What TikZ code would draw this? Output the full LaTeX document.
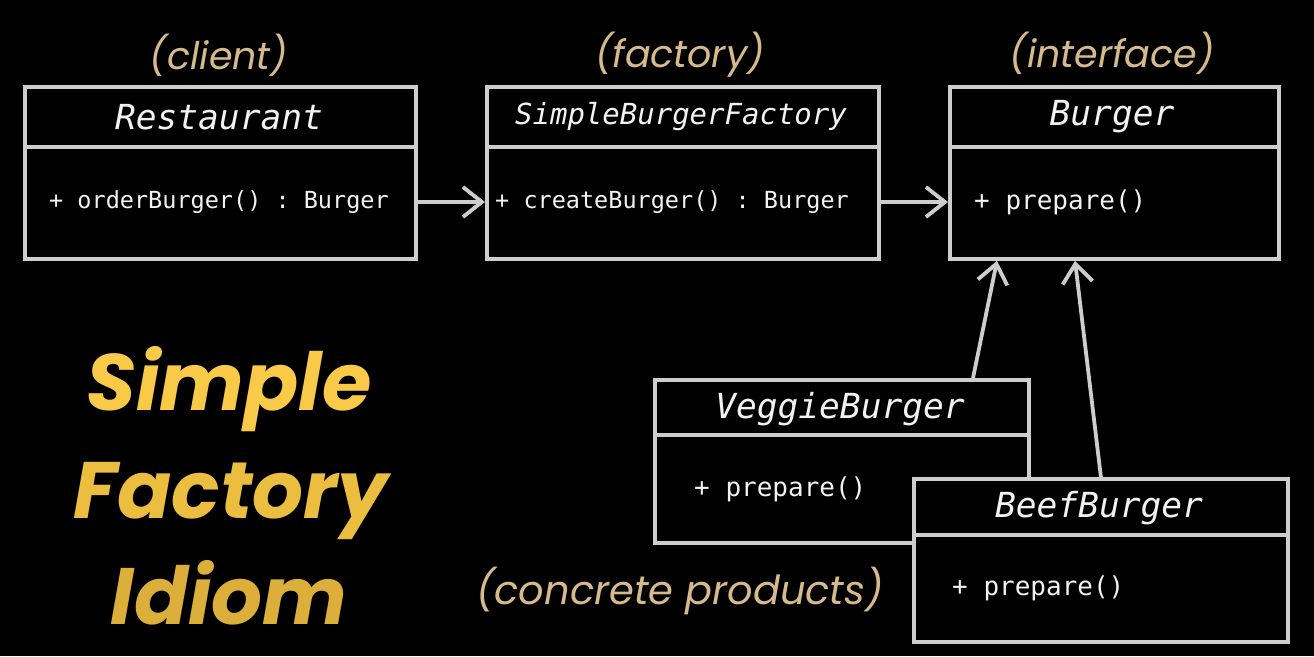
\documentclass[tikz,border=0pt]{standalone}
\usepackage{fontspec}
\setmonofont{DejaVu Sans Mono}
\newfontfamily\popfont{Poppins}
\usetikzlibrary{arrows.meta,calc}
\definecolor{boxgray}{RGB}{205,205,205}
\definecolor{txtwhite}{RGB}{242,242,242}
\definecolor{tan}{RGB}{214,186,140}
\definecolor{goldA}{RGB}{248,202,72}
\definecolor{goldB}{RGB}{236,190,64}
\definecolor{goldC}{RGB}{220,174,58}
\tikzset{
  umlbox/.style={draw=boxgray, line width=3.8pt, fill=black, rectangle, anchor=north west, inner sep=0pt},
  divider/.style={draw=boxgray, line width=3.8pt},
  clsname/.style={text=txtwhite, font=\ttfamily\itshape\fontsize{34.5}{40}\selectfont, inner sep=0pt},
  member/.style={text=txtwhite, font=\ttfamily\fontsize{23.5}{28}\selectfont, inner sep=0pt, anchor=west},
  prepmember/.style={text=txtwhite, font=\ttfamily\fontsize{26}{30}\selectfont, inner sep=0pt, anchor=west},
  rolelabel/.style={text=tan, font=\popfont\itshape\fontsize{38}{44}\selectfont, inner sep=0pt},
  titleline/.style={font=\popfont\bfseries\itshape\fontsize{80}{100}\selectfont, inner sep=0pt, anchor=base},
  arr/.style={draw=boxgray, line width=3.8pt, -{Straight Barb[length=19pt,width=30pt,line width=3.8pt]}}
}
\begin{document}
\begin{tikzpicture}[x=1pt,y=-1pt]
\fill[black] (0,0) rectangle (1314,656);
\useasboundingbox (0,0) rectangle (1314,656);

% Restaurant
\node[umlbox, minimum width=391pt, minimum height=172pt] (rest) at (23,85) {};
\draw[divider] ($(rest.north west)+(0,62)$) -- ($(rest.north east)+(0,62)$);
\node[clsname] (restn) at (219,117) {Restaurant};
\node[member] (restm) at (49,202) {+ orderBurger() : Burger};

% SimpleBurgerFactory
\node[umlbox, minimum width=392pt, minimum height=172pt] (fact) at (485,85) {};
\draw[divider] ($(fact.north west)+(0,62)$) -- ($(fact.north east)+(0,62)$);
\node[clsname, font=\ttfamily\itshape\fontsize{29}{34}\selectfont] (factn) at (681,117) {SimpleBurgerFactory};
\node[member] (factm) at (495,202) {+ createBurger() : Burger};

% Burger
\node[umlbox, minimum width=329pt, minimum height=172pt] (burg) at (948,85) {};
\draw[divider] ($(burg.north west)+(0,62)$) -- ($(burg.north east)+(0,62)$);
\node[clsname] (burgn) at (1112,117) {Burger};
\node[prepmember] (burgm) at (974,202) {+ prepare()};

% VeggieBurger
\node[umlbox, minimum width=374pt, minimum height=163pt] (veg) at (653,378) {};
\draw[divider] ($(veg.north west)+(0,57)$) -- ($(veg.north east)+(0,57)$);
\node[clsname] (vegn) at (840,409) {VeggieBurger};
\node[prepmember] (vegm) at (694,489) {+ prepare()};

% BeefBurger
\node[umlbox, minimum width=374pt, minimum height=163pt] (beef) at (912,477) {};
\draw[divider] ($(beef.north west)+(0,58)$) -- ($(beef.north east)+(0,58)$);
\node[clsname] (beefn) at (1099,508) {BeefBurger};
\node[prepmember] (beefm) at (952,588) {+ prepare()};

% connectors
\draw[arr] (rest.east |- restm) -- (fact.west |- restm);
\draw[arr] (fact.east |- factm) -- (burg.west |- factm);
\draw[arr] ($(veg.north west)+(320,0)$) -- ($(burg.south west)+(49,0)$);
\draw[arr] (beef.north) -- ($(burg.south west)+(127,0)$);

% role labels
\node[rolelabel] (lclient) at (219,55) {(client)};
\node[rolelabel] (lfactory) at (680,55) {(factory)};
\node[rolelabel] (linterface) at (1112,53) {(interface)};
\node[rolelabel, font=\popfont\itshape\fontsize{40}{46}\selectfont] (lconcrete) at (680,591) {(concrete products)};

% title
\node[titleline, text=goldA] (t1) at (229,410) {Simple};
\node[titleline, text=goldB] (t2) at (231,518) {Factory};
\node[titleline, text=goldC] (t3) at (229,624) {Idiom};
\end{tikzpicture}
\end{document}
